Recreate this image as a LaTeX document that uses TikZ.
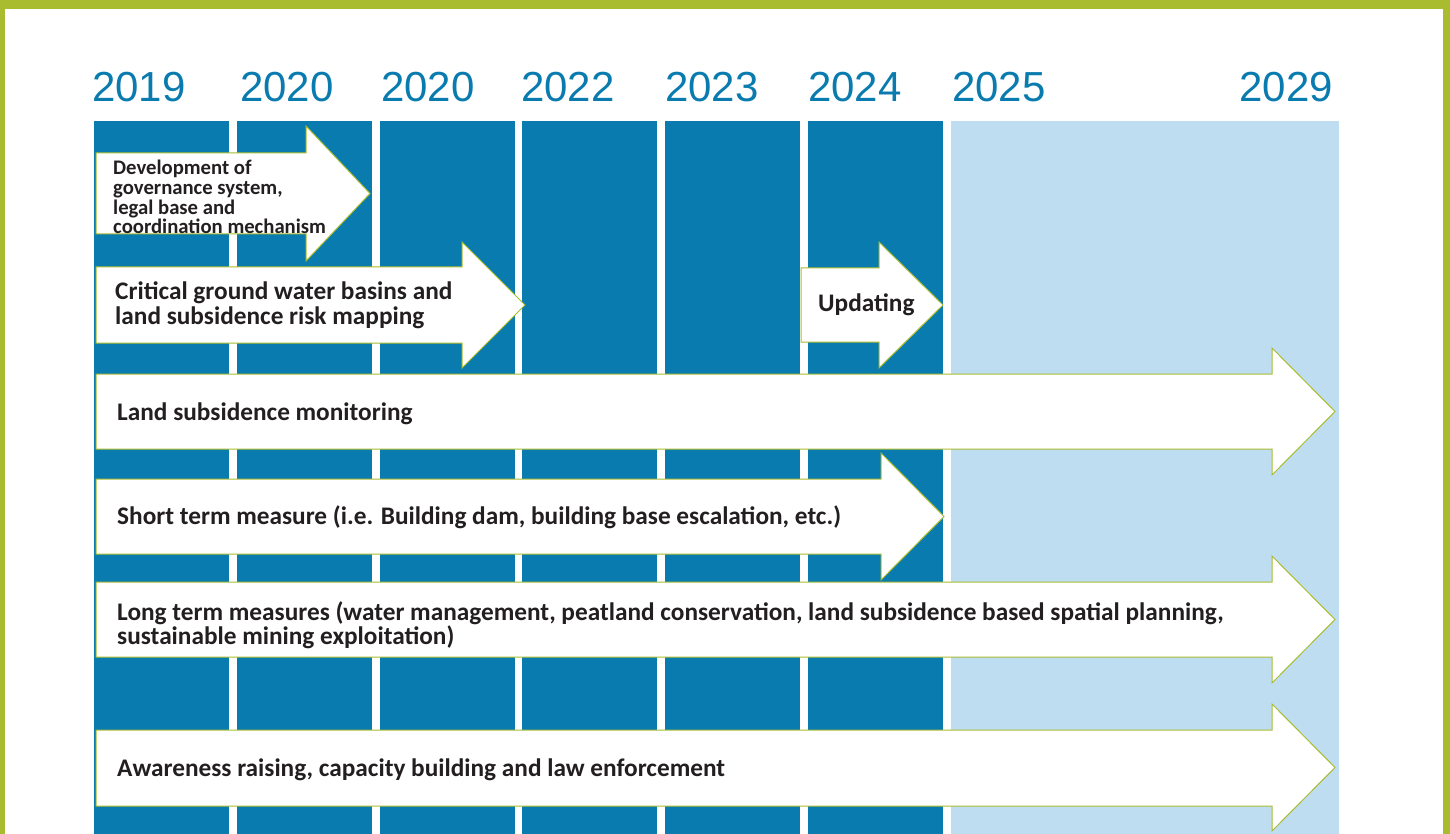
\documentclass[tikz,border=0pt]{standalone}
\usepackage{fontspec}
\setmainfont{Carlito}
\newfontfamily\yearfont{Liberation Sans}
\definecolor{dblue}{HTML}{0A7BAF}
\definecolor{lblue}{HTML}{BEDDF0}
\definecolor{lgreen}{HTML}{A9BC30}
\definecolor{txt}{HTML}{231F20}
\tikzset{
  arr/.style={draw=lgreen, line width=1pt, fill=white, line join=miter},
  col/.style={fill=dblue, draw=none},
  year/.style={text=dblue, font=\yearfont\fontsize{42}{42}\selectfont, inner sep=0pt},
  lbl/.style={text=txt, font=\bfseries\fontsize{25.3}{24.5}\selectfont, align=left, anchor=west, inner sep=0pt},
  smalllbl/.style={text=txt, font=\bfseries\fontsize{20.7}{19.7}\selectfont, align=left, anchor=west, inner sep=0pt}
}
\newcommand{\blockarrow}[7]{%
  \draw[arr] (#1,#4) -- (#2,#4) -- (#2,#6) -- (#3,{(#6+#7)/2}) -- (#2,#7) -- (#2,#5) -- (#1,#5) -- cycle;}
\begin{document}
\begin{tikzpicture}[x=1pt,y=-1pt]
\useasboundingbox (0,0) rectangle (1450,834);
\fill[white] (0,0) rectangle (1450,834);
% green frame
\fill[lgreen] (0,0) rectangle (1450,9);
\fill[lgreen] (0,0) rectangle (5,834);
\fill[lgreen] (1443,0) rectangle (1450,834);
% columns
\fill[col] (94,121) rectangle (229,834);
\fill[col] (237,121) rectangle (372,834);
\fill[col] (380,121) rectangle (515,834);
\fill[col] (522,121) rectangle (657,834);
\fill[col] (665,121) rectangle (800,834);
\fill[col] (808,121) rectangle (943,834);
\fill[lblue] (951,121) rectangle (1339,834);
% years
\node[year, anchor=base west] (y1) at (92,102) {2019};
\node[year, anchor=base west] (y2) at (240,102) {2020};
\node[year, anchor=base west] (y3) at (381,102) {2020};
\node[year, anchor=base west] (y4) at (521,102) {2022};
\node[year, anchor=base west] (y5) at (665,102) {2023};
\node[year, anchor=base west] (y6) at (808,102) {2024};
\node[year, anchor=base west] (y7) at (952,102) {2025};
\node[year, anchor=base east] (y8) at (1333,102) {2029};
% arrows
\blockarrow{96}{306}{370}{153}{234}{126}{261}
\blockarrow{96}{462}{525}{267}{343}{242}{368}
\blockarrow{801}{879}{943}{268}{342}{242}{368}
\blockarrow{96}{1272}{1335}{374}{449}{348}{475}
\blockarrow{96}{881}{944}{479}{554}{453}{580}
\blockarrow{96}{1272}{1335}{582}{657}{556}{683}
\blockarrow{96}{1272}{1335}{730}{806}{704}{831}
% labels
\node[smalllbl] (t1) at (113,197) {Development of\\governance system,\\legal base and\\coordination mechanism};
\node[lbl] (t2) at (115,305) {Critical ground water basins and\\land subsidence risk mapping};
\node[lbl] (t3) at (818,305) {Updating};
\node[lbl] (t4) at (117,414) {Land subsidence monitoring};
\node[lbl] (t5) at (117,517) {Short term measure (i.e. Building dam, building base escalation, etc.)};
\node[lbl] (t6) at (117,625) {Long term measures (water management, peatland conservation, land subsidence based spatial planning,\\sustainable mining exploitation)};
\node[lbl] (t7) at (117,770) {Awareness raising, capacity building and law enforcement};
\end{tikzpicture}
\end{document}
